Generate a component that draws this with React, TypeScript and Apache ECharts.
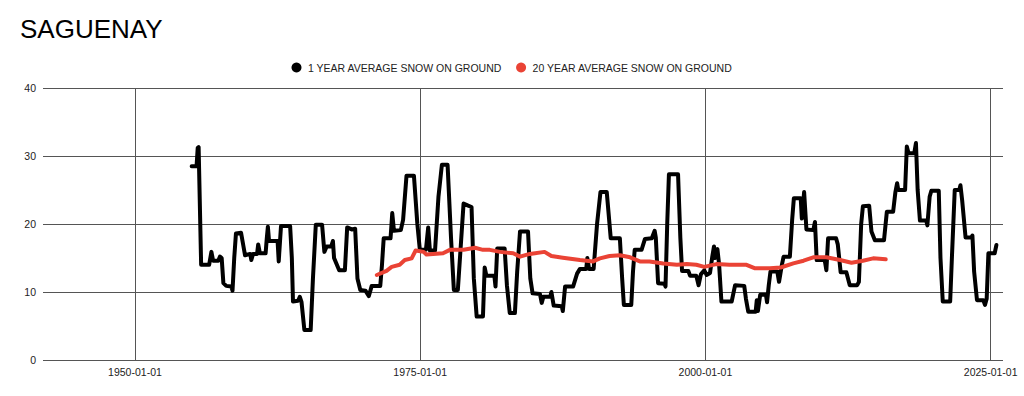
import React, { useEffect, useRef } from "react";
import * as echarts from "echarts";

const titleText = "SAGUENAY";
const seriesNames = ["1 YEAR AVERAGE SNOW ON GROUND", "20 YEAR AVERAGE SNOW ON GROUND"];
const tickLabels = ["1950-01-01", "1975-01-01", "2000-01-01", "2025-01-01"];
const yTicks = [0, 10, 20, 30, 40];

// decimal years
const oneYearDates = [
  1954.97, 1955.4, 1955.5, 1955.58, 1955.8, 1956.5, 1956.7, 1956.85, 1957.3, 1957.45,
  1957.6, 1957.75, 1958.0, 1958.45, 1958.55, 1958.7, 1958.85, 1959.3, 1959.5, 1959.65,
  1960.1, 1960.2, 1960.35, 1960.7, 1960.8, 1960.95, 1961.45, 1961.55, 1961.65, 1961.75,
  1962.5, 1962.6, 1962.8, 1963.6, 1963.75, 1963.85, 1964.3, 1964.45, 1964.6, 1964.85,
  1965.4, 1965.6, 1965.85, 1966.4, 1966.6, 1966.8, 1967.2, 1967.35, 1967.45, 1967.9,
  1968.4, 1968.6, 1969.0, 1969.3, 1969.5, 1969.75, 1970.2, 1970.5, 1970.75, 1971.5,
  1971.65, 1971.8, 1972.4, 1972.55, 1972.7, 1973.3, 1973.5, 1973.8, 1974.45, 1974.75,
  1974.97, 1975.5, 1975.7, 1975.85, 1976.3, 1976.6, 1976.9, 1977.4, 1977.7, 1977.95,
  1978.3, 1978.8, 1979.2, 1979.5, 1979.7, 1979.95, 1980.5, 1980.65, 1980.8, 1981.5,
  1981.6, 1981.75, 1982.4, 1982.6, 1982.85, 1983.3, 1983.5, 1983.75, 1984.45, 1984.65,
  1984.85, 1985.5, 1985.65, 1985.8, 1986.4, 1986.5, 1986.7, 1987.4, 1987.5, 1987.7,
  1988.4, 1988.75, 1989.0, 1989.55, 1989.65, 1989.8, 1990.2, 1990.5, 1990.8, 1991.35,
  1991.7, 1992.5, 1992.7, 1992.85, 1993.5, 1993.65, 1993.8, 1994.4, 1994.7, 1995.3,
  1995.55, 1995.65, 1995.85, 1996.4, 1996.5, 1996.65, 1996.8, 1997.6, 1997.8, 1997.95,
  1998.5, 1998.65, 1999.2, 1999.4, 1999.6, 1999.9, 2000.1, 2000.4, 2000.6, 2000.75,
  2000.85, 2001.05, 2001.2, 2001.4, 2002.3, 2002.6, 2003.4, 2003.55, 2003.75, 2004.4,
  2004.5, 2004.6, 2004.8, 2005.3, 2005.4, 2005.55, 2005.7, 2006.3, 2006.45, 2006.7,
  2006.85, 2007.4, 2007.6, 2007.75, 2008.35, 2008.45, 2008.65, 2008.85, 2009.45, 2009.6,
  2009.75, 2010.45, 2010.6, 2010.75, 2011.45, 2011.6, 2011.85, 2012.35, 2012.65, 2013.3,
  2013.45, 2013.65, 2013.8, 2014.35, 2014.55, 2014.85, 2015.65, 2015.9, 2016.45, 2016.65,
  2016.8, 2016.9, 2017.5, 2017.65, 2017.8, 2018.3, 2018.45, 2018.6, 2018.8, 2019.35,
  2019.45, 2019.65, 2019.8, 2020.45, 2020.6, 2020.8, 2021.45, 2021.6, 2021.85, 2022.25,
  2022.35, 2022.5, 2022.8, 2023.3, 2023.4, 2023.55, 2023.8, 2024.35, 2024.5, 2024.65,
  2024.8, 2025.35, 2025.5,
];
const oneYearValues = [
  28.5, 28.5, 31.2, 31.3, 14.0, 14.0, 15.9, 14.6, 14.6, 15.2,
  15.0, 11.3, 10.9, 10.8, 10.2, 15.0, 18.6, 18.7, 16.8, 15.4,
  15.6, 14.7, 15.6, 15.6, 17.0, 15.7, 15.7, 17.8, 19.6, 17.5,
  17.5, 14.5, 19.7, 19.7, 15.0, 8.6, 8.7, 9.3, 8.5, 4.4,
  4.4, 12.0, 19.9, 19.9, 15.9, 16.7, 16.7, 17.5, 15.0, 13.2,
  13.2, 19.5, 19.2, 19.3, 12.0, 10.3, 10.2, 9.4, 10.9, 10.9,
  14.0, 17.9, 17.9, 21.6, 19.0, 19.1, 20.6, 27.1, 27.1, 20.0,
  16.2, 16.2, 19.5, 16.1, 16.1, 24.0, 28.7, 28.7, 18.0, 10.3,
  10.3, 23.0, 22.7, 22.5, 12.0, 6.4, 6.4, 13.6, 12.4, 12.4,
  10.8, 16.4, 16.4, 11.0, 6.9, 6.9, 13.0, 18.9, 18.9, 12.0,
  9.8, 9.7, 8.4, 9.3, 9.3, 10.0, 8.0, 7.9, 7.2, 10.8,
  10.8, 12.7, 13.4, 13.4, 15.0, 13.4, 13.4, 20.0, 24.7, 24.7,
  17.9, 17.9, 12.0, 8.1, 8.1, 13.0, 16.2, 16.2, 17.8, 17.9,
  19.0, 18.0, 11.3, 11.2, 10.8, 20.0, 27.3, 27.3, 18.0, 13.1,
  13.1, 12.4, 12.4, 11.0, 12.6, 13.2, 12.5, 12.8, 15.2, 16.7,
  15.0, 16.3, 14.0, 8.6, 8.6, 11.0, 10.9, 9.0, 7.1, 7.1,
  8.8, 7.2, 9.6, 9.6, 8.5, 11.0, 13.0, 13.0, 11.5, 14.0,
  15.2, 15.2, 20.6, 23.8, 23.8, 20.8, 24.7, 19.2, 19.1, 20.3,
  14.7, 14.7, 13.2, 17.9, 17.9, 17.0, 12.9, 12.9, 11.0, 11.0,
  11.5, 20.0, 22.6, 22.7, 18.9, 17.6, 17.6, 21.8, 21.8, 24.7,
  26.0, 25.0, 25.0, 31.4, 30.4, 30.4, 31.9, 25.0, 20.5, 20.5,
  19.8, 24.0, 24.9, 24.9, 15.0, 8.6, 8.6, 15.0, 25.0, 25.0,
  25.7, 23.5, 18.0, 18.0, 18.3, 13.0, 8.8, 8.8, 8.1, 9.0,
  15.7, 15.7, 16.9,
];

const twentyYearDates = [
  1971.2, 1972.05, 1972.5, 1973.2, 1973.65, 1974.25, 1974.6, 1975.3, 1975.55, 1977.0,
  1977.6, 1978.8, 1979.8, 1980.5, 1981.1, 1982.0, 1983.15, 1983.75, 1984.6, 1985.9,
  1986.5, 1987.5, 1989.0, 1990.15, 1990.75, 1991.6, 1992.5, 1993.4, 1994.25, 1995.1,
  1996.3, 1997.5, 1998.35, 1999.2, 1999.9, 2000.95, 2002.1, 2003.6, 2004.3, 2005.65,
  2006.6, 2007.7, 2008.6, 2009.45, 2010.6, 2011.8, 2012.8, 2013.8, 2014.7, 2015.8,
];
const twentyYearValues = [
  12.5, 13.1, 13.7, 14.0, 14.7, 14.95, 16.1, 15.9, 15.5, 15.7,
  16.2, 16.2, 16.5, 16.2, 16.2, 15.9, 15.7, 15.2, 15.6, 15.9,
  15.3, 15.05, 14.7, 14.5, 14.95, 15.3, 15.4, 15.1, 14.5, 14.5,
  14.2, 14.0, 14.1, 14.0, 13.7, 14.1, 14.0, 14.0, 13.5, 13.5,
  13.6, 14.2, 14.6, 15.1, 15.1, 14.7, 14.3, 14.6, 14.95, 14.8,
];

const tickYears = tickLabels.map((s) => parseInt(s.slice(0, 4), 10));
const yearLabel = (v: number) => {
  const i = tickYears.indexOf(Math.round(v));
  return i >= 0 ? tickLabels[i] : "";
};

const FONT = "'Liberation Sans', Arial, Helvetica, sans-serif";

export default function App() {
  const ref = useRef<HTMLDivElement>(null);
  useEffect(() => {
    if (!ref.current) return;
    const chart = echarts.init(ref.current, null, { renderer: "svg" });
    chart.setOption({
      animation: false,
      backgroundColor: "#ffffff",
      textStyle: { fontFamily: FONT },
      title: {
        text: titleText,
        left: 20,
        top: 16,
        padding: 0,
        textStyle: { fontSize: 26, fontWeight: "normal", color: "#000", fontFamily: FONT },
      },
      legend: {
        top: 57,
        left: "center",
        icon: "circle",
        itemWidth: 13,
        itemHeight: 10,
        itemGap: 14,
        data: seriesNames,
        textStyle: { fontSize: 10.5, color: "#222", fontFamily: FONT },
      },
      grid: { left: 43, right: 21, top: 88, bottom: 36, containLabel: false },
      xAxis: {
        type: "value",
        min: 1941.94,
        max: 2026.08,
        axisLine: { show: false },
        axisTick: { show: false, customValues: tickYears },
        axisLabel: {
          customValues: tickYears,
          formatter: yearLabel,
          fontSize: 10.5,
          color: "#222",
          margin: 6,
          fontFamily: FONT,
        },
        splitLine: { show: true, lineStyle: { color: "#555", width: 1 } },
      },
      yAxis: {
        type: "value",
        min: yTicks[0],
        max: yTicks[yTicks.length - 1],
        interval: 10,
        axisLine: { show: false },
        axisTick: { show: false },
        axisLabel: { fontSize: 10.5, color: "#222", margin: 7, fontFamily: FONT },
        splitLine: { show: true, lineStyle: { color: "#555", width: 1 } },
      },
      series: [
        {
          name: seriesNames[0],
          type: "line",
          showSymbol: false,
          color: "#000000",
          lineStyle: { width: 4, color: "#000000", join: "round", cap: "round" },
          data: oneYearDates.map((d, i) => [d, oneYearValues[i]]),
          z: 3,
        },
        {
          name: seriesNames[1],
          type: "line",
          showSymbol: false,
          color: "#ea4335",
          lineStyle: { width: 4, color: "#ea4335", join: "round", cap: "round" },
          data: twentyYearDates.map((d, i) => [d, twentyYearValues[i]]),
          z: 4,
        },
      ],
    });
    return () => chart.dispose();
  }, []);
  return (
    <div
      ref={ref}
      style={{ position: "fixed", left: 0, top: 0, width: 1024, height: 396, background: "#fff" }}
    />
  );
}
